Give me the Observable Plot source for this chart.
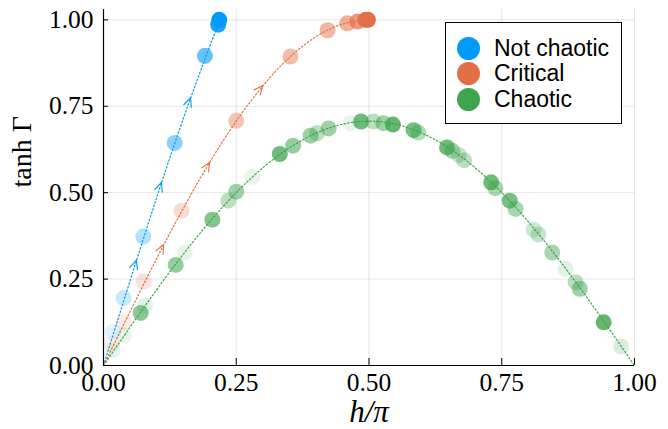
<!DOCTYPE html>
<html>
<head>
<meta charset="utf-8">
<script src="https://cdn.jsdelivr.net/npm/d3@7"></script>
<script src="https://cdn.jsdelivr.net/npm/@observablehq/plot@0.6"></script>
<style>
  html, body { margin: 0; padding: 0; background: white; }
  #wrap { position: relative; width: 668px; height: 429px; }
  #legend { position: absolute; left: 445px; top: 22px; width: 175px; height: 100px;
    border: 1.3px solid #000; background: white; font-family: "Liberation Sans", Arial, sans-serif; font-size: 23px; }
  .row { position: absolute; left: 0; height: 24px; display: flex; align-items: center; }
  .sw { width: 23px; height: 23px; border-radius: 50%; margin-left: 11px; margin-right: 14px; }
</style>
</head>
<body>
<div id="wrap"></div>
<script>
const seriesNames = ["Not chaotic", "Critical", "Chaotic"];
const seriesColors = ["#009AFA", "#E36F47", "#3EA44E"];

const xTicks = [0, 0.25, 0.5, 0.75, 1.0];
const yTicks = [0, 0.25, 0.5, 0.75, 1.0];

// Scatter points
const notChaoticX = [0.018, 0.038, 0.075, 0.134, 0.191, 0.216, 0.218];
const notChaoticY = [0.098, 0.195, 0.373, 0.644, 0.896, 0.986, 1.0];
const notChaoticAlpha = [0.12, 0.22, 0.3, 0.45, 0.6, 0.9, 1.0];

const criticalX = [0.016, 0.038, 0.076, 0.147, 0.25, 0.352, 0.422, 0.459, 0.478, 0.493, 0.498];
const criticalY = [0.063, 0.125, 0.243, 0.448, 0.708, 0.894, 0.97, 0.99, 0.995, 1.0, 1.0];
const criticalAlpha = [0.1, 0.15, 0.2, 0.25, 0.4, 0.45, 0.5, 0.55, 0.7, 0.9, 1.0];

const chaoticX = [0.018, 0.038, 0.07, 0.078, 0.136, 0.153, 0.205, 0.235, 0.25, 0.28,
  0.332, 0.357, 0.39, 0.402, 0.424, 0.465, 0.485, 0.508, 0.527, 0.545,
  0.584, 0.593, 0.647, 0.657, 0.669, 0.679, 0.73, 0.738, 0.765, 0.776,
  0.81, 0.819, 0.845, 0.87, 0.889, 0.897, 0.942, 0.975];
const chaoticY = [0.045, 0.087, 0.152, 0.173, 0.291, 0.327, 0.422, 0.477, 0.503, 0.546,
  0.612, 0.636, 0.665, 0.672, 0.686, 0.701, 0.706, 0.706, 0.701, 0.697,
  0.681, 0.674, 0.631, 0.621, 0.609, 0.594, 0.53, 0.513, 0.477, 0.453,
  0.393, 0.379, 0.327, 0.279, 0.241, 0.222, 0.125, 0.055];
const chaoticAlpha = [0.12, 0.12, 0.6, 0.15, 0.55, 0.12, 0.65, 0.35, 0.5, 0.12,
  0.75, 0.55, 0.5, 0.35, 0.5, 0.12, 0.75, 0.35, 0.5, 0.8,
  0.7, 0.4, 0.75, 0.45, 0.3, 0.35, 0.75, 0.45, 0.7, 0.45,
  0.25, 0.3, 0.45, 0.15, 0.35, 0.5, 0.8, 0.2];

// Dotted trajectory curves
const notChaoticCurveX = [0, 0.05, 0.10, 0.15, 0.20, 0.22];
const notChaoticCurveY = [0, 0.245, 0.485, 0.713, 0.923, 1.0];
const criticalCurveX = [0, 0.05, 0.10, 0.15, 0.20, 0.25, 0.30, 0.35, 0.40, 0.45, 0.50];
const criticalCurveY = [0, 0.156, 0.309, 0.454, 0.588, 0.707, 0.809, 0.891, 0.951, 0.988, 1.0];
const chaoticCurveX = [0, 0.1, 0.2, 0.3, 0.4, 0.5, 0.6, 0.7, 0.8, 0.9, 1.0];
const chaoticCurveY = [0, 0.219, 0.416, 0.572, 0.672, 0.707, 0.672, 0.572, 0.416, 0.219, 0];

// Arrowheads on the curves
const arrowSeries = ["Not chaotic", "Not chaotic", "Not chaotic", "Critical", "Critical", "Critical"];
const arrowX = [0.062, 0.109, 0.164, 0.113, 0.2, 0.30];
const arrowY = [0.305, 0.53, 0.775, 0.35, 0.588, 0.81];
const arrowAngle = [17.6, 18.3, 19.8, 26, 31, 39.7];

function pts(name, xs, ys, as) {
  return xs.map((x, i) => ({series: name, x, y: ys[i], alpha: as ? as[i] : 1}));
}
const points = [
  ...pts("Not chaotic", notChaoticX, notChaoticY, notChaoticAlpha),
  ...pts("Critical", criticalX, criticalY, criticalAlpha),
  ...pts("Chaotic", chaoticX, chaoticY, chaoticAlpha)
];
const curves = [
  ...pts("Not chaotic", notChaoticCurveX, notChaoticCurveY),
  ...pts("Critical", criticalCurveX, criticalCurveY),
  ...pts("Chaotic", chaoticCurveX, chaoticCurveY)
];
const arrows = arrowX.map((x, i) => ({series: arrowSeries[i], x, y: arrowY[i], angle: arrowAngle[i]}));

const chevron = {
  draw(context, l, r) {
    context.moveTo(-r, l);
    context.lineTo(0, 0);
    context.lineTo(r, l);
  }
};

const fmt = d3.format(".2f");
const chart = Plot.plot({
  width: 668,
  height: 429,
  marginLeft: 103,
  marginRight: 34,
  marginTop: 9,
  marginBottom: 64,
  x: {domain: [0, 1]},
  y: {domain: [0, 1.03]},
  color: {domain: seriesNames, range: seriesColors},
  style: {fontFamily: "'Liberation Serif', serif", fontSize: "25px", background: "white", color: "black"},
  marks: [
    Plot.gridX(xTicks, {stroke: "#000", strokeOpacity: 0.1}),
    Plot.gridY(yTicks, {stroke: "#000", strokeOpacity: 0.1}),
    Plot.axisX(xTicks, {tickSize: 0, tickPadding: 7, tickFormat: fmt, label: null, fontSize: 25.5}),
    Plot.axisY(yTicks, {tickSize: 0, tickPadding: 10, tickFormat: fmt, label: null, fontSize: 25.5}),
    Plot.tickX(xTicks, {x: d => d, stroke: "#000", insetTop: 349, strokeWidth: 1}),
    Plot.tickY(yTicks, {y: d => d, stroke: "#000", insetRight: 526, strokeWidth: 1}),
    Plot.line(curves, {x: "x", y: "y", z: "series", stroke: "series", strokeWidth: 1.2,
      strokeDasharray: "1.5,2.2", curve: "natural"}),
    Plot.vector(arrows, {x: "x", y: "y", rotate: "angle", stroke: "series", length: 9, r: 4,
      anchor: "start", shape: chevron, strokeWidth: 1.1}),
    Plot.dot(points, {x: "x", y: "y", fill: "series", fillOpacity: "alpha", r: 8, stroke: null}),
    Plot.ruleX([0], {stroke: "#000", strokeWidth: 1.2}),
    Plot.ruleY([0], {stroke: "#000", strokeWidth: 1.2}),
    Plot.text(["tanh Γ"], {frameAnchor: "left", text: d => d, rotate: -90, dx: -73,
      fontSize: 28, lineAnchor: "bottom", fill: "#000"}),
    Plot.text(["h/π"], {frameAnchor: "bottom", text: d => d, dy: 34, fontSize: 31,
      lineAnchor: "top", fontStyle: "italic", fill: "#000"})
  ]
});

const wrap = document.getElementById("wrap");
wrap.appendChild(chart);

const legend = document.createElement("div");
legend.id = "legend";
seriesNames.forEach((name, i) => {
  const row = document.createElement("div");
  row.className = "row";
  row.style.top = (13 + i * 25.5) + "px";
  const sw = document.createElement("span");
  sw.className = "sw";
  sw.style.background = seriesColors[i];
  const label = document.createElement("span");
  label.textContent = name;
  row.appendChild(sw);
  row.appendChild(label);
  legend.appendChild(row);
});
wrap.appendChild(legend);
</script>
</body>
</html>
